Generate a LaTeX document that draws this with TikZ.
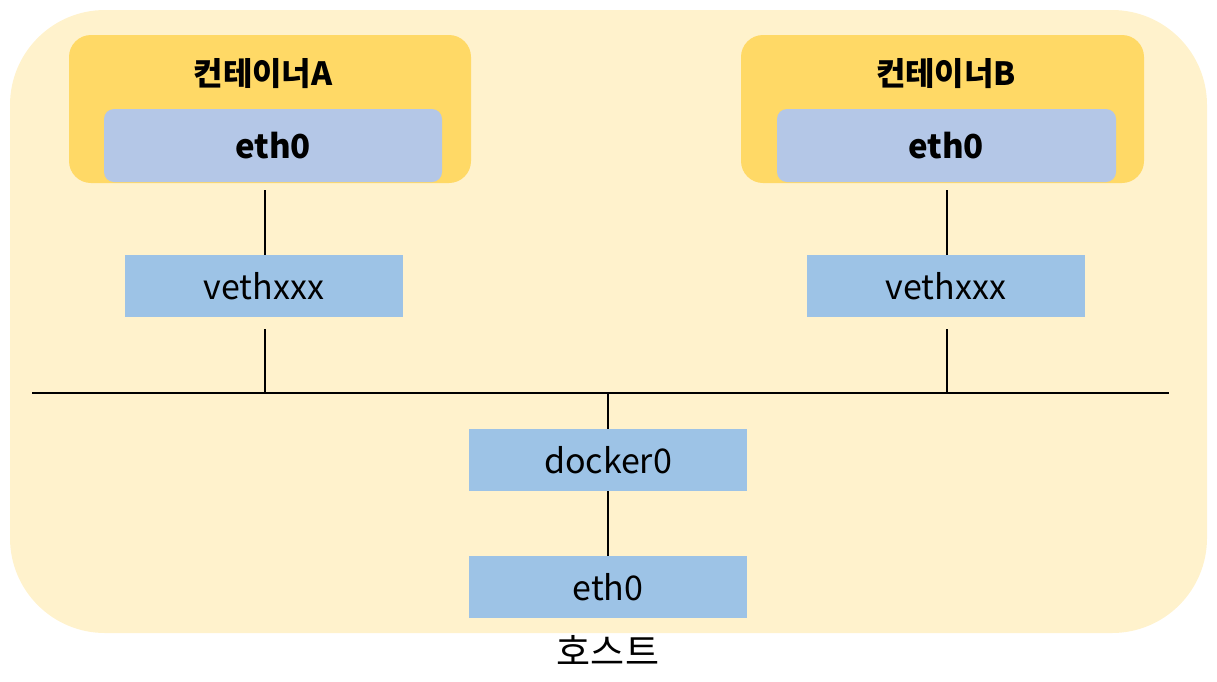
\documentclass[tikz,border=0pt]{standalone}
\usepackage{fontspec}
\setmainfont{Noto Sans CJK KR}
\begin{document}
\begin{tikzpicture}[x=1pt,y=-1pt,
  host/.style={fill=hostc,draw=none,rounded corners=95pt},
  cont/.style={fill=contc,draw=none,rounded corners=22pt},
  ifbox/.style={fill=ifc,draw=none,rounded corners=10pt},
  title/.style={font=\fontsize{32}{38}\selectfont\bfseries},
  ifname/.style={font=\fontsize{33}{40}\selectfont\bfseries},
  veth/.style={fill=vethc,draw=none,minimum width=278pt,minimum height=62pt,inner sep=0pt,font=\fontsize{34}{40}\selectfont},
  conn/.style={draw=black,line width=1.6pt}]
\definecolor{hostc}{HTML}{FFF2CC}
\definecolor{contc}{HTML}{FFD966}
\definecolor{ifc}{HTML}{B4C7E7}
\definecolor{vethc}{HTML}{9DC3E6}
\useasboundingbox (0,0) rectangle (1217,681);
\path[host] (10,10) rectangle (1207,633);
% container A
\path[cont] (69,35) rectangle (471,183);
\path[ifbox] (104,109) rectangle (442,182);
\node[title] (tA) at (263,74) {컨테이너A};
\node[ifname] (eA) at (273,146) {eth0};
% container B
\path[cont] (741,35) rectangle (1144,183);
\path[ifbox] (777,109) rectangle (1116,182);
\node[title] (tB) at (946,74) {컨테이너B};
\node[ifname] (eB) at (946,146) {eth0};
% veths
\node[veth] (vA) at (264,286) {vethxxx};
\node[veth] (vB) at (946,286) {vethxxx};
\node[veth] (d0) at (608,460) {docker0};
\node[veth] (e0) at (608,587) {eth0};
\node[font=\fontsize{37}{44}\selectfont] (host) at (608,650) {호스트};
% connectors
\coordinate (aT) at (265,190);
\coordinate (aB) at (265,329);
\coordinate (bT) at (947,190);
\coordinate (bB) at (947,329);
\coordinate (busL) at (32,393);
\coordinate (busR) at (1169,393);
\draw[conn] (aT) -- (aT |- vA.north);
\draw[conn] (aB) -- (aB |- busL);
\draw[conn] (bT) -- (bT |- vB.north);
\draw[conn] (bB) -- (bB |- busL);
\draw[conn] (busL) -- (busR);
\draw[conn] (d0.north |- busL) -- (d0.north);
\draw[conn] (d0.south) -- (e0.north);
\end{tikzpicture}
\end{document}
